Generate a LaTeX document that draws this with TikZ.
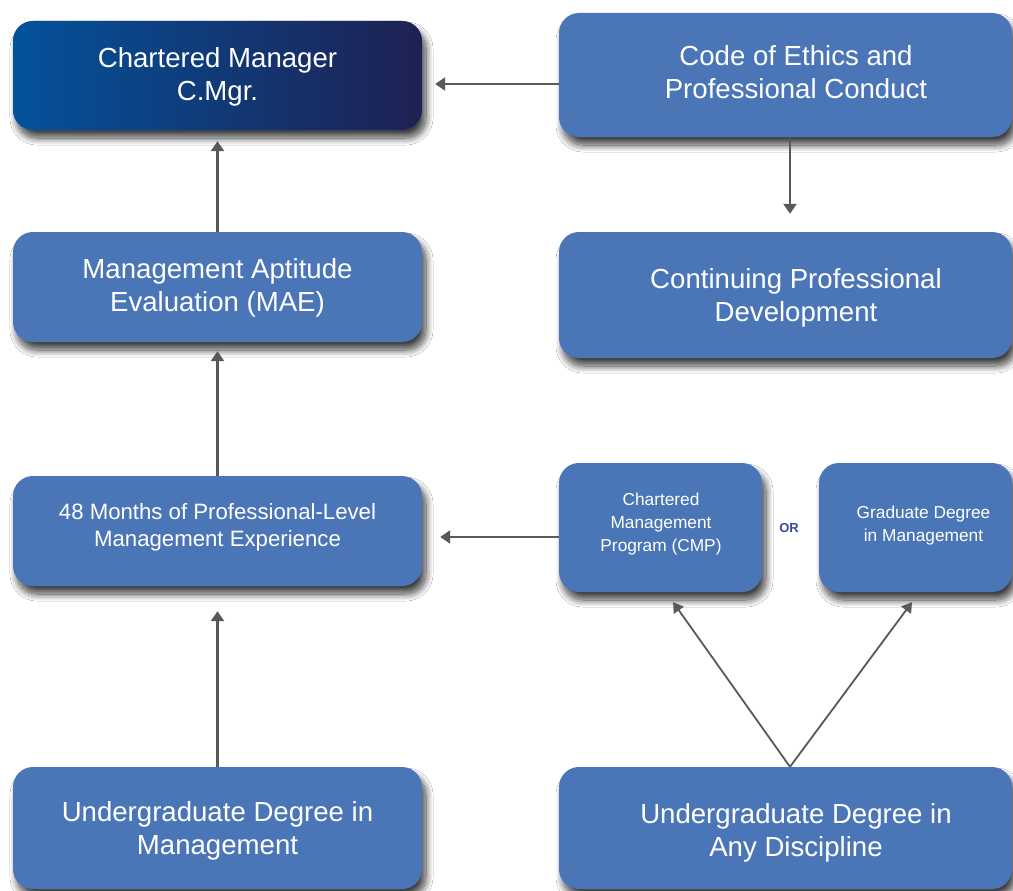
\documentclass[tikz,border=0pt]{standalone}
\usepackage{fontspec}
\setmainfont{Liberation Sans}
\usetikzlibrary{arrows.meta,shadows.blur}
\definecolor{boxblue}{RGB}{74,118,184}
\definecolor{gradL}{RGB}{4,82,156}
\definecolor{gradR}{RGB}{30,33,82}
\definecolor{arrowgray}{RGB}{89,89,91}
\definecolor{orblue}{RGB}{59,74,160}
\begin{document}
\begin{tikzpicture}[x=1pt,y=-1pt,
  box/.style={rounded corners=20pt, fill=boxblue, inner sep=0pt,
    blur shadow={shadow xshift=4pt, shadow yshift=-8pt, shadow blur radius=7pt,
      shadow blur steps=14, shadow opacity=75}},
  big/.style={font=\fontsize{27.6}{33}\selectfont, text=white, align=center, inner sep=0pt},
  mid/.style={font=\fontsize{22.2}{27}\selectfont, text=white, align=center, inner sep=0pt},
  small/.style={font=\fontsize{17.3}{23}\selectfont, text=white, align=center, inner sep=0pt},
  arr/.style={draw=arrowgray, line width=2.5pt, -{Triangle[length=10pt,width=13pt]}},
  darr/.style={draw=arrowgray, line width=1.8pt, -{Triangle[length=10pt,width=12pt]}},
]
\fill[white] (0,0) rectangle (1013,891);
\useasboundingbox (0,0) rectangle (1013,891);

% boxes
\node[box, left color=gradL, right color=gradR, minimum width=409pt, minimum height=109pt] (cm) at (217.5,75.5) {};
\node[box, minimum width=453pt, minimum height=124pt] (code) at (785.5,75) {};
\node[box, minimum width=409pt, minimum height=110pt] (mae) at (217.5,287) {};
\node[box, minimum width=453pt, minimum height=126pt] (cpd) at (785.5,295) {};
\node[box, minimum width=409pt, minimum height=110pt] (exp) at (217.5,531) {};
\node[box, minimum width=203pt, minimum height=129pt] (cmp) at (660.5,527.5) {};
\node[box, minimum width=193pt, minimum height=129pt] (grad) at (915.5,527.5) {};
\node[box, minimum width=409pt, minimum height=122pt] (ugm) at (217.5,828) {};
\node[box, minimum width=453pt, minimum height=122pt] (uad) at (785.5,828) {};

% texts
\node[big] (cm-t) at (217.5,77) {Chartered Manager\\C.Mgr.};
\node[big] (code-t) at (796,72.5) {Code of Ethics and\\Professional Conduct};
\node[big] (mae-t) at (217.5,288) {Management Aptitude\\Evaluation (MAE)};
\node[big] (cpd-t) at (796,298) {Continuing Professional\\Development};
\node[mid] (exp-t) at (217.5,527.5) {48 Months of Professional-Level\\Management Experience};
\node[small] (cmp-t) at (661,524) {Chartered\\Management\\Program (CMP)};
\node[small] (grad-t) at (923.5,525.5) {Graduate Degree\\in Management};
\node[big] (ugm-t) at (217.5,830.5) {Undergraduate Degree in\\Management};
\node[big] (uad-t) at (796,832.5) {Undergraduate Degree in\\Any Discipline};
\node[font=\bfseries\fontsize{13}{15}\selectfont, text=orblue, inner sep=0pt] (or) at (789,528) {OR};

% connectors
\draw[arr, shorten >=13pt] (code.west |- 0,84) -- (cm.east |- 0,84);
\draw[arr, shorten >=18pt] (code.south -| 790,0) -- (cpd.north -| 790,0);
\draw[arr, shorten >=11pt] (mae.north) -- (cm.south);
\draw[arr, shorten >=9pt] (exp.north) -- (mae.south);
\draw[arr, shorten >=18pt] (cmp.west |- 0,537) -- (exp.east |- 0,537);
\draw[arr, shorten >=25pt] (ugm.north) -- (exp.south);
\draw[darr, shorten >=12.2pt] (uad.north -| 790,0) -- (cmp.south -| 666,0);
\draw[darr, shorten >=12.4pt] (uad.north -| 790,0) -- (grad.south -| 919.4,0);
\end{tikzpicture}
\end{document}
